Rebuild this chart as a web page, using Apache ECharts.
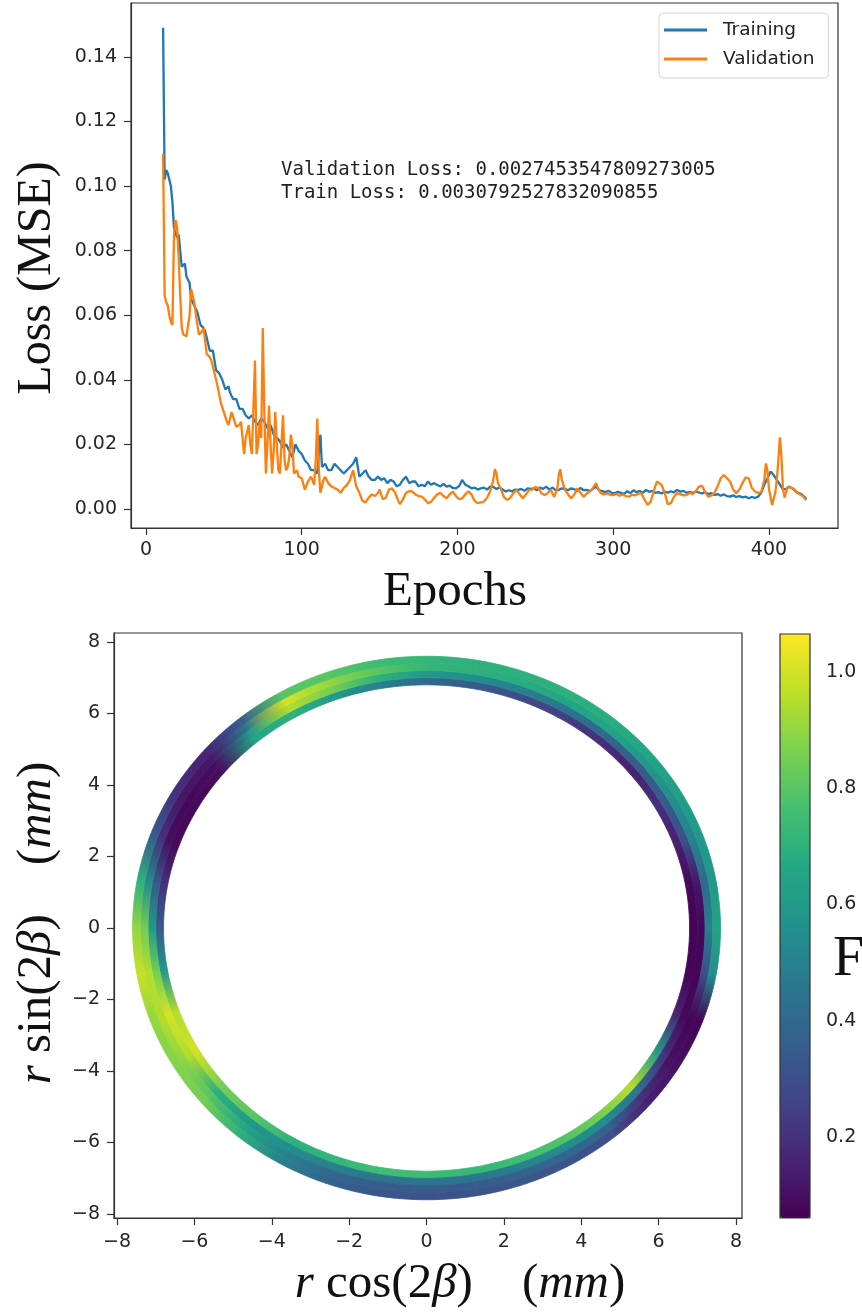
<!DOCTYPE html>
<html>
<head>
<meta charset="utf-8">
<script src="https://cdn.jsdelivr.net/npm/echarts@6/dist/echarts.min.js"></script>
<style>
html,body{margin:0;padding:0;background:#fff;}
#c{width:862px;height:1316px;}
</style>
</head>
<body>
<div id="c"></div>
<script>
// ---------------- DATA ----------------
const trainEpochs = [
 11,12,13,14,16,17,18,20,21,23, 25,26,28,29,31,33,35,37,38,40,
 41,43,45,47,49,51,53,54,56,58, 60,62,64,66,68,70,72,74,76,78,
 80,82,84,86,88,90,92,94,96,98, 100,102,104,106,108,110,112,113,115,117,
 119,121,123,125,127,129,131,133,135,137, 139,141,143,145,147,149,151,153,155,157,
 159,161,163,165,167,169,171,173,175,177, 179,181,183,185,187,189,191,193,195,197,
 199,201,203,205,207,209,211,213,215,217, 219,221,223,225,227,229,231,233,235,237,
 239,241,243,245,247,249,251,253,255,257, 259,261,263,265,267,269,271,273,275,277,
 279,281,283,285,287,289,291,293,295,297, 299,301,303,305,307,309,311,313,315,317,
 319,321,323,325,327,329,331,333,335,337, 339,341,343,345,347,349,351,353,355,357,
 359,361,363,365,367,369,371,373,375,377, 379,381,383,385,387,389,391,393,395,397,
 399,401,403,405,407,409,411,413,415,417, 419,421,423,424
];
const trainLoss = [
 .149,.102,.105,.104,.100,.095,.087,.084,.085,.075, .076,.072,.070,.065,.063,.061,.057,.056,.055,.051,
 .049,.049,.043,.042,.040,.037,.038,.036,.034,.034, .031,.031,.029,.028,.029,.027,.026,.028,.027,.025,
 .026,.023,.022,.021,.019,.020,.018,.016,.020,.018, .017,.015,.014,.012,.012,.011,.023,.013,.014,.012,
 .012,.014,.013,.012,.011,.012,.013,.014,.016,.010, .011,.012,.010,.009,.009,.010,.009,.0095,.008,.009,
 .0085,.007,.0075,.009,.010,.008,.0085,.0085,.007,.0075, .007,.0085,.0075,.008,.0074,.007,.0078,.0069,.0072,.0065,
 .0064,.007,.009,.0075,.007,.0064,.0066,.006,.0064,.0066, .006,.0069,.0068,.0062,.0066,.006,.0054,.0058,.0054,.006,
 .0059,.0062,.0056,.0064,.0062,.0064,.0058,.0066,.0062,.0069, .006,.0066,.0058,.0059,.0064,.0062,.0058,.0064,.0061,.0056,
 .0065,.0058,.0059,.0055,.0062,.0069,.0058,.0055,.0052,.0056, .005,.0049,.0053,.005,.0047,.0055,.0049,.0058,.0052,.0056,
 .005,.0059,.0053,.0056,.005,.0052,.0048,.0054,.005,.0055, .0051,.0059,.0054,.0056,.005,.0053,.0049,.0054,.0051,.0048,
 .0052,.0046,.0049,.0043,.0046,.0041,.0045,.004,.0038,.0042, .0037,.004,.0036,.0038,.0033,.0037,.0034,.0038,.005,.0075,
 .0095,.0116,.0105,.009,.0075,.006,.0062,.0069,.0064,.0055, .0049,.0045,.0036,.0031
];
const valEpochs = [
 11,12,13,14,15,16,17,18,19,20, 21,22,23,24,26,27,28,29,30,31,
 33,34,36,37,39,41,42,44,46,48, 50,52,53,55,57,58,60,61,63,64,
 66,67,68,70,71,72,73,74,75,76, 77,78,79,80,81,82,83,84,85,86,
 87,88,89,90,91,92,93,94,95,96, 97,98,100,102,104,106,108,109,110,111,
 112,114,115,117,119,121,123,125,127,129, 131,133,135,137,139,141,143,145,147,149,
 150,152,154,156,158,160,162,163,165,167, 169,171,173,175,177,179,181,183,185,187,
 189,191,193,195,197,199,201,203,205,207, 209,211,213,215,217,219,221,223,224,225,
 226,228,230,232,234,236,238,240,242,244, 246,248,250,252,254,256,258,260,262,263,
 264,265,266,267,269,271,273,275,277,279, 281,283,285,287,289,290,292,294,296,298,
 300,302,304,306,308,310,312,314,316,318, 320,322,324,326,328,329,331,333,335,337,
 339,341,343,345,347,349,351,353,355,357, 359,361,363,365,367,369,371,373,375,377,
 379,381,383,385,387,389,391,393,395,397, 398,399,400,402,404,405,406,407,408,409,
 410,412,414,416,418,420,422,424
];
const valLoss = [
 .110,.066,.064,.063,.060,.058,.057,.085,.0895,.087, .078,.066,.056,.054,.0535,.054,.060,.068,.066,.064,
 .057,.054,.055,.056,.048,.047,.046,.042,.038,.033, .030,.027,.026,.030,.027,.0255,.026,.027,.017,.022,
 .026,.020,.017,.046,.017,.020,.027,.022,.056,.030, .011,.020,.032,.020,.011,.018,.030,.020,.012,.011,
 .020,.029,.015,.012,.013,.016,.023,.020,.011,.011, .012,.010,.0095,.006,.0085,.010,.0075,.015,.028,.012,
 .005,.009,.010,.008,.007,.0065,.006,.005,.0065,.0074, .009,.012,.007,.005,.0025,.002,.0035,.0045,.004,.005,
 .006,.003,.0035,.006,.0064,.005,.0025,.0015,.003,.005, .0055,.0054,.0045,.004,.0038,.003,.0018,.0022,.0035,.0045,
 .005,.004,.0033,.0045,.0054,.004,.003,.0033,.0045,.0055, .0045,.0025,.0018,.002,.0023,.0035,.0055,.009,.0123,.011,
 .008,.006,.0035,.0028,.0035,.005,.0059,.0045,.0033,.0045, .0059,.006,.0068,.0065,.0048,.0043,.005,.0059,.0038,.0033,
 .006,.0105,.0123,.009,.0059,.0045,.0033,.0045,.0064,.005, .0038,.0048,.0054,.0065,.008,.0065,.0049,.0045,.0048,.0044,
 .0043,.0047,.0041,.0045,.004,.0038,.0044,.0042,.0047,.0049, .003,.0013,.0022,.0055,.0085,.009,.0075,.005,.0015,.0018,
 .0038,.0049,.0046,.0042,.0043,.005,.0046,.0055,.0069,.0072, .0052,.0038,.0042,.005,.007,.0095,.0105,.0095,.0085,.006,
 .0049,.006,.008,.0098,.0095,.0065,.0054,.0049,.0052,.009, .0141,.012,.006,.0012,.005,.009,.015,.0222,.016,.006,
 .0035,.0069,.0065,.0062,.005,.0045,.0038,.0027
];
const lossTicks = [0, 0.02, 0.04, 0.06, 0.08, 0.10, 0.12, 0.14];
const epochTicks = [0, 100, 200, 300, 400];
const valText = 'Validation Loss: 0.0027453547809273005';
const trainText = 'Train Loss: 0.0030792527832090855';

// ring: F value per angle (deg) and radial band (inner -> outer)
const ringAngles = [0,10,20,30,40,50,60,70,80,90,100,110,120,130,140,150,160,170,
                    180,190,200,210,220,230,240,250,260,270,280,290,300,310,320,330,340,350];
const ringRadii = [6.8, 7.0, 7.2, 7.4, 7.6];
const fBand0 = [0.07,0.08,0.15,0.20,0.15,0.20,0.25,0.30,0.35,0.40,0.50,0.60,0.70,0.65,0.10,0.08,0.08,0.20,
                0.35,0.60,0.95,1.00,0.85,0.80,0.70,0.72,0.75,0.75,0.72,0.75,0.78,0.85,0.95,0.60,0.15,0.07];
const fBand1 = [0.08,0.12,0.30,0.35,0.35,0.40,0.45,0.50,0.55,0.60,0.70,0.85,0.95,0.60,0.10,0.08,0.10,0.35,
                0.60,0.85,1.00,0.95,0.70,0.60,0.55,0.50,0.45,0.45,0.45,0.50,0.55,0.55,0.45,0.20,0.08,0.07];
const fBand2 = [0.50,0.40,0.50,0.55,0.60,0.65,0.65,0.68,0.70,0.72,0.80,0.90,1.00,0.45,0.12,0.12,0.20,0.55,
                0.85,0.95,0.95,0.90,0.80,0.65,0.50,0.40,0.35,0.35,0.35,0.38,0.40,0.38,0.20,0.10,0.07,0.30];
const fBand3 = [0.65,0.60,0.60,0.62,0.65,0.68,0.70,0.70,0.70,0.72,0.75,0.80,0.80,0.35,0.15,0.20,0.35,0.70,
                0.90,0.98,0.90,0.88,0.85,0.70,0.50,0.38,0.33,0.32,0.32,0.33,0.32,0.30,0.15,0.10,0.07,0.55];
const axisTicks2 = [-8, -6, -4, -2, 0, 2, 4, 6, 8];
const cbTicks = [0.2, 0.4, 0.6, 0.8, 1.0];
const cbMin = 0.061, cbMax = 1.065;
const viridis = ['#440154','#482475','#414487','#355f8d','#2a788e','#21918c','#22a884','#44bf70','#7ad151','#bddf26','#fde725'];

// ---------------- LAYOUT ----------------
const G1 = {left: 131, top: 3, width: 707, height: 525};
const G2 = {left: 114, top: 633, width: 628, height: 585};
const CB = {left: 780, top: 634, width: 30, height: 584};
const AX = '#333';
const tickFont = {fontFamily: 'DejaVu Sans', fontSize: 19, color: '#262626'};
const serif = '"Liberation Serif", "DejaVu Serif", serif';
const minus = v => (v < 0 ? '\u2212' : '') + Math.abs(v);

const trainData = trainEpochs.map((e, i) => [e, trainLoss[i]]);
const valData = valEpochs.map((e, i) => [e, valLoss[i]]);
const bands = [fBand0, fBand1, fBand2, fBand3];
const ringData = [];
bands.forEach((arr, b) => arr.forEach((f, a) => ringData.push([a, b, f])));

// same colour ramp as the visualMap, used to shade each cell between its own value and the next angle's value
const stopsRGB = viridis.map(h => [parseInt(h.substr(1, 2), 16), parseInt(h.substr(3, 2), 16), parseInt(h.substr(5, 2), 16)]);
function colorOf(f) {
  let t = (f - cbMin) / (cbMax - cbMin);
  t = Math.max(0, Math.min(1, t)) * (stopsRGB.length - 1);
  const i = Math.min(stopsRGB.length - 2, Math.floor(t)), u = t - i;
  const a = stopsRGB[i], b = stopsRGB[i + 1];
  return 'rgb(' + [0, 1, 2].map(k => Math.round(a[k] + (b[k] - a[k]) * u)).join(',') + ')';
}

function renderRing(params, api) {
  const a = api.value(0), b = api.value(1);
  const nA = ringAngles.length;
  const a2 = (a + 1) % nA;
  const d1 = ringAngles[a], d2 = a2 === 0 ? 360 : ringAngles[a2];
  const t1 = d1 * Math.PI / 180, t2 = d2 * Math.PI / 180;
  const r1 = ringRadii[b], r2 = ringRadii[b + 1], rm = (r1 + r2) / 2;
  const n = 6, pts = [];
  for (let k = 0; k <= n; k++) { const t = t1 + (t2 - t1) * k / n; pts.push(api.coord([r2 * Math.cos(t), r2 * Math.sin(t)])); }
  for (let k = n; k >= 0; k--) { const t = t1 + (t2 - t1) * k / n; pts.push(api.coord([r1 * Math.cos(t), r1 * Math.sin(t)])); }
  const p1 = api.coord([rm * Math.cos(t1), rm * Math.sin(t1)]);
  const p2 = api.coord([rm * Math.cos(t2), rm * Math.sin(t2)]);
  const grad = {type: 'linear', global: true, x: p1[0], y: p1[1], x2: p2[0], y2: p2[1],
    colorStops: [{offset: 0, color: colorOf(bands[b][a])}, {offset: 1, color: colorOf(bands[b][a2])}]};
  return {type: 'polygon', shape: {points: pts}, style: {fill: grad, stroke: grad, lineWidth: 0.8}};
}

const chart = echarts.init(document.getElementById('c'), null, {renderer: 'canvas'});
chart.setOption({
  animation: false,
  backgroundColor: '#fff',
  grid: [
    Object.assign({show: true, borderColor: AX, borderWidth: 1.2, outerBoundsMode: 'none'}, G1),
    Object.assign({show: true, borderColor: AX, borderWidth: 1.2, outerBoundsMode: 'none'}, G2),
    Object.assign({show: false, outerBoundsMode: 'none'}, CB)
  ],
  legend: {
    data: ['Training', 'Validation'], orient: 'vertical', left: 659, top: 13,
    padding: [6, 14, 8, 5], itemGap: 7, itemWidth: 43, itemHeight: 3, icon: 'rect',
    backgroundColor: 'rgba(255,255,255,0.9)', borderColor: '#d4d4d4', borderWidth: 1, borderRadius: 4,
    textStyle: {fontFamily: 'DejaVu Sans', fontSize: 18.5, color: '#222', lineHeight: 22, padding: [0, 0, 0, 11]}
  },
  xAxis: [
    {gridIndex: 0, type: 'value', min: -9.6, max: 444.3,
     axisLine: {show: true, onZero: false, lineStyle: {color: AX, width: 1.2}},
     axisTick: {show: true, length: 7, customValues: epochTicks, lineStyle: {color: AX, width: 1.2}},
     axisLabel: Object.assign({customValues: epochTicks, margin: 13}, tickFont),
     splitLine: {show: false}},
    {gridIndex: 1, type: 'value', min: -8.08, max: 8.155,
     axisLine: {show: true, onZero: false, lineStyle: {color: AX, width: 1.2}},
     axisTick: {show: true, length: 7, customValues: axisTicks2, lineStyle: {color: AX, width: 1.2}},
     axisLabel: Object.assign({customValues: axisTicks2, margin: 15, formatter: minus}, tickFont),
     splitLine: {show: false}},
    {gridIndex: 2, type: 'value', min: 0, max: 1, show: false}
  ],
  yAxis: [
    {gridIndex: 0, type: 'value', min: -0.0059, max: 0.1567,
     axisLine: {show: true, onZero: false, lineStyle: {color: AX, width: 1.2}},
     axisTick: {show: true, length: 7, customValues: lossTicks, lineStyle: {color: AX, width: 1.2}},
     axisLabel: Object.assign({customValues: lossTicks, margin: 14, formatter: v => v.toFixed(2)}, tickFont),
     splitLine: {show: false}},
    {gridIndex: 1, type: 'value', min: -8.11, max: 8.25,
     axisLine: {show: true, onZero: false, lineStyle: {color: AX, width: 1.2}},
     axisTick: {show: true, length: 7, customValues: axisTicks2, lineStyle: {color: AX, width: 1.2}},
     axisLabel: Object.assign({customValues: axisTicks2, margin: 14, formatter: minus}, tickFont),
     splitLine: {show: false}},
    {gridIndex: 2, type: 'value', position: 'right', min: cbMin, max: cbMax,
     axisLine: {show: false},
     axisTick: {show: true, length: 7, customValues: cbTicks, lineStyle: {color: AX, width: 1.2}},
     axisLabel: Object.assign({customValues: cbTicks, margin: 16, formatter: v => v.toFixed(1)}, tickFont),
     splitLine: {show: false}}
  ],
  visualMap: {
    type: 'continuous', seriesIndex: 2, dimension: 2, min: cbMin, max: cbMax,
    inRange: {color: viridis}, show: true, calculable: false, hoverLink: false,
    orient: 'vertical', left: CB.left, top: CB.top, itemWidth: CB.width, itemHeight: CB.height,
    padding: 0, text: null
  },
  series: [
    {name: 'Training', type: 'line', xAxisIndex: 0, yAxisIndex: 0, data: trainData,
     showSymbol: false, symbol: 'none', lineStyle: {color: '#1f77b4', width: 2.3}, itemStyle: {color: '#1f77b4'}, z: 2},
    {name: 'Validation', type: 'line', xAxisIndex: 0, yAxisIndex: 0, data: valData,
     showSymbol: false, symbol: 'none', lineStyle: {color: '#ff7f0e', width: 2.3}, itemStyle: {color: '#ff7f0e'}, z: 3},
    {name: 'F', type: 'custom', xAxisIndex: 1, yAxisIndex: 1, data: ringData,
     dimensions: ['a', 'b', 'F'], encode: {x: 'a', y: 'b'}, renderItem: renderRing, z: 2}
  ],
  graphic: [
    {type: 'text', x: 281, y: 170, z: 50, style: {text: valText, font: '19px "DejaVu Sans Mono"', fill: '#222', align: 'left', verticalAlign: 'middle'}},
    {type: 'text', x: 281, y: 193, z: 50, style: {text: trainText, font: '19px "DejaVu Sans Mono"', fill: '#222', align: 'left', verticalAlign: 'middle'}},
    {type: 'text', x: 37, y: 278, rotation: Math.PI / 2, z: 50,
     style: {text: 'Loss (MSE)', font: '48px ' + serif, fill: '#111', align: 'center', verticalAlign: 'middle'}},
    {type: 'text', x: 455, y: 592, z: 50,
     style: {text: 'Epochs', font: '49px ' + serif, fill: '#111', align: 'center', verticalAlign: 'middle'}},
    {type: 'text', x: 460, y: 1284, z: 50,
     style: {text: '{i|r} cos(2{i|\u03b2})\u2003({i|mm})', font: '49px ' + serif, fill: '#111', align: 'center', verticalAlign: 'middle',
             rich: {i: {fontStyle: 'italic', fontSize: 49, fontFamily: serif, fill: '#111'}}}},
    {type: 'text', x: 37, y: 923, rotation: Math.PI / 2, z: 50,
     style: {text: '{i|r} sin(2{i|\u03b2})\u2003({i|mm})', font: '49px ' + serif, fill: '#111', align: 'center', verticalAlign: 'middle',
             rich: {i: {fontStyle: 'italic', fontSize: 49, fontFamily: serif, fill: '#111'}}}},
    {type: 'text', x: 833, y: 960, z: 50,
     style: {text: 'F', font: '56px ' + serif, fill: '#111', align: 'left', verticalAlign: 'middle'}},
    {type: 'rect', z: 60, shape: {x: CB.left, y: CB.top, width: CB.width, height: CB.height},
     style: {fill: 'none', stroke: AX, lineWidth: 1.2}}
  ]
});
</script>
</body>
</html>
